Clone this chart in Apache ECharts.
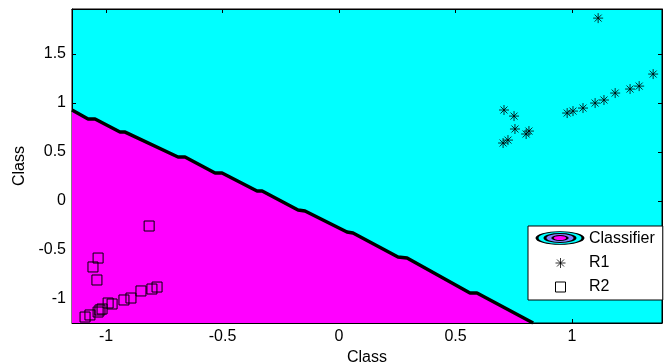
<!DOCTYPE html>
<html>
<head>
<meta charset="utf-8">
<script src="https://cdn.jsdelivr.net/npm/echarts@6/dist/echarts.min.js"></script>
<style>
body{margin:0;padding:0;background:#fff;}
#main{width:667px;height:364px;}
</style>
</head>
<body>
<div id="main"></div>
<script>
// decision boundary of the classifier (x, y)
var boundary_x=[-1.146,-1.077,-1.047,-0.940,-0.918,-0.691,-0.661,-0.532,-0.502,-0.352,-0.330,-0.176,-0.146,0.034,0.060,0.253,0.292,0.562,0.592,0.833];
var boundary_y=[0.929,0.837,0.837,0.704,0.704,0.449,0.449,0.286,0.286,0.102,0.102,-0.092,-0.102,-0.316,-0.327,-0.571,-0.582,-0.939,-0.939,-1.245];
// class R1 points
var r1_x=[1.112,0.708,0.751,0.755,0.815,0.803,0.725,0.704,0.979,1.004,1.047,1.099,1.137,1.185,1.249,1.288,1.348];
var r1_y=[1.867,0.929,0.867,0.735,0.714,0.684,0.622,0.592,0.898,0.918,0.949,1.000,1.031,1.102,1.143,1.173,1.296];
// class R2 points
var r2_x=[-0.815,-1.034,-1.056,-1.039,-0.781,-0.803,-0.850,-0.893,-0.923,-0.974,-0.991,-1.017,-1.026,-1.034,-1.069,-1.090];
var r2_y=[-0.255,-0.582,-0.673,-0.806,-0.878,-0.898,-0.918,-0.990,-1.010,-1.051,-1.041,-1.102,-1.112,-1.133,-1.163,-1.184];
var x_ticks=[-1,-0.5,0,0.5,1];
var y_ticks=[-1,-0.5,0,0.5,1,1.5];
var x_range=[-1.146,1.386];
var y_range=[-1.245,1.96];

function pairs(xs,ys){
	var out=[];
	for(var i=0;i<xs.length;i++)
		out.push([xs[i],ys[i]]);
	return out;
}

var star='path://M5,0L5,10M0,5L10,5M1.5,1.5L8.5,8.5M1.5,8.5L8.5,1.5';
var square='path://M0,0L10,0L10,10L0,10Z';
var font='Liberation Sans';

var myChart=echarts.init(document.getElementById('main'));
var option={
	animation:false,
	textStyle:{fontFamily:font},
	grid:{
		left:72,right:5,top:9,bottom:41,
		outerBoundsMode:'none',
		containLabel:false,
		show:true,
		backgroundColor:'#00FFFF',
		borderColor:'#000',
		borderWidth:1
	},
	xAxis:[
	{
		type:'value',
		min:x_range[0],max:x_range[1],
		name:'Class',
		nameLocation:'middle',
		nameGap:21,
		nameTextStyle:{color:'#000',fontSize:16,fontFamily:font},
		splitLine:{show:false},
		axisLine:{onZero:false,lineStyle:{color:'#000'}},
		axisTick:{inside:true,length:4,customValues:x_ticks,lineStyle:{color:'#000'}},
		axisLabel:{customValues:x_ticks,color:'#000',fontSize:16,margin:6,fontFamily:font}
	},
	{
		type:'value',position:'top',
		min:x_range[0],max:x_range[1],
		splitLine:{show:false},
		axisLine:{onZero:false,lineStyle:{color:'#000'}},
		axisTick:{inside:true,length:4,customValues:x_ticks,lineStyle:{color:'#000'}},
		axisLabel:{show:false}
	}],
	yAxis:[
	{
		type:'value',
		min:y_range[0],max:y_range[1],
		name:'Class',
		nameLocation:'middle',
		nameGap:44,
		nameTextStyle:{color:'#000',fontSize:16,fontFamily:font},
		splitLine:{show:false},
		axisLine:{show:true,onZero:false,lineStyle:{color:'#000'}},
		axisTick:{show:true,inside:true,length:4,customValues:y_ticks,lineStyle:{color:'#000'}},
		axisLabel:{customValues:y_ticks,color:'#000',fontSize:16,margin:6,fontFamily:font}
	},
	{
		type:'value',position:'right',
		min:y_range[0],max:y_range[1],
		splitLine:{show:false},
		axisLine:{show:true,onZero:false,lineStyle:{color:'#000'}},
		axisTick:{show:true,inside:true,length:4,customValues:y_ticks,lineStyle:{color:'#000'}},
		axisLabel:{show:false}
	}],
	legend:{
		orient:'vertical',
		left:528,top:226,
		padding:[5,8,5,9],
		itemWidth:47,itemHeight:10,itemGap:8,
		backgroundColor:'#fff',
		borderColor:'#000',borderWidth:1,borderRadius:0,
		textStyle:{color:'#000',fontSize:16,lineHeight:14,fontFamily:font},
		data:[
			{name:'Classifier',icon:'rect',itemStyle:{color:'rgba(0,0,0,0)',borderWidth:0}},
			{name:'R1',itemStyle:{borderWidth:0.8}},
			{name:'R2',icon:square,itemStyle:{borderWidth:1}}
		]
	},
	graphic:[
		{type:'circle',z:100,x:560,y:238,scaleX:1,scaleY:0.28,shape:{r:23},style:{fill:'#00FFFF',stroke:'#000',lineWidth:3}},
		{type:'circle',z:101,x:560,y:238,scaleX:1,scaleY:0.3,shape:{r:15},style:{fill:'#8080FF',stroke:'#000',lineWidth:3}},
		{type:'circle',z:102,x:560,y:238,scaleX:1,scaleY:0.33,shape:{r:7.5},style:{fill:'#FF00FF',stroke:'#000',lineWidth:2.5}}
	],
	series:[
	{
		name:'Classifier',
		type:'line',
		data:pairs(boundary_x,boundary_y),
		showSymbol:false,
		symbol:'none',
		lineStyle:{color:'#000',width:3.5},
		itemStyle:{color:'#000'},
		areaStyle:{color:'#FF00FF',opacity:1,origin:'start'},
		z:2
	},
	{
		name:'R1',
		type:'scatter',
		data:pairs(r1_x,r1_y),
		symbol:star,
		symbolSize:10,
		itemStyle:{color:'#000',borderColor:'#000',borderWidth:0.8,opacity:1},
		z:3
	},
	{
		name:'R2',
		type:'scatter',
		data:pairs(r2_x,r2_y),
		symbol:square,
		symbolSize:10,
		itemStyle:{color:'rgba(0,0,0,0)',borderColor:'#000',borderWidth:1,opacity:1},
		z:3
	}]
};
myChart.setOption(option);
</script>
</body>
</html>
